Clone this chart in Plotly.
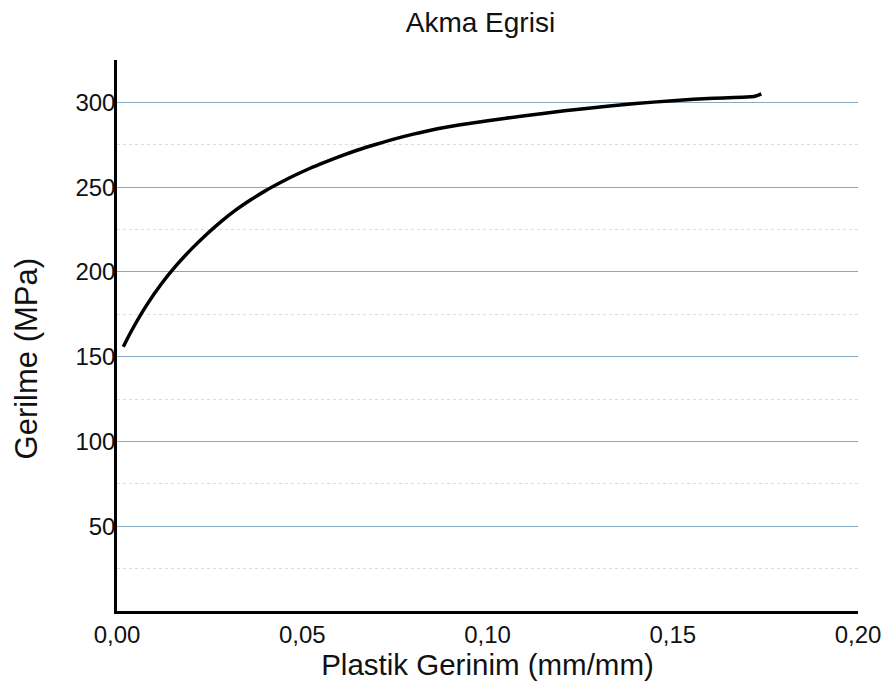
import plotly.graph_objects as go

# Plastic strain (mm/mm) and stress (MPa)
strain = [0.0017, 0.004, 0.008, 0.012, 0.016, 0.020, 0.024, 0.028, 0.032, 0.036,
          0.040, 0.044, 0.048, 0.052, 0.056, 0.060, 0.065, 0.070, 0.075, 0.080,
          0.0865, 0.095, 0.105, 0.115, 0.126, 0.140, 0.150, 0.161, 0.1722, 0.1739]
stress = [155.9, 165.6, 180.4, 193.0, 203.8, 213.3, 221.8, 229.5, 236.4, 242.4,
          247.8, 252.6, 257.0, 261.0, 264.6, 268.0, 271.9, 275.3, 278.5, 281.3,
          284.5, 287.6, 290.7, 293.5, 296.3, 299.3, 301.0, 302.5, 303.6, 305.0]

title_text = "Akma Egrisi"
x_title = "Plastik Gerinim (mm/mm)"
y_title = "Gerilme (MPa)"
x_ticks = [0.0, 0.05, 0.10, 0.15, 0.20]
y_ticks = [50, 100, 150, 200, 250, 300]
y_minor = [25, 75, 125, 175, 225, 275]

font_family = "Liberation Sans, Arial, sans-serif"

L, R, T, B = 117, 27, 60, 74
W, H = 893, 686
pw, ph = W - L - R, H - T - B

fig = go.Figure()
fig.add_trace(go.Scatter(
    x=strain, y=stress, mode="lines",
    line=dict(color="black", width=3.5, shape="spline", smoothing=0.8),
    showlegend=False,
))

fig.update_layout(
    width=W, height=H,
    paper_bgcolor="white", plot_bgcolor="white",
    margin=dict(l=L, r=R, t=T, b=B),
    separators=",.",
    font=dict(family=font_family, color="#111111"),
    title=dict(text=title_text, x=0.538, xref="container", xanchor="center",
               y=1 - 22 / H, yref="container", yanchor="middle",
               font=dict(size=28, family=font_family, color="#111111")),
)

fig.update_xaxes(
    range=[0, 0.2], tickvals=x_ticks, tickformat=".2f",
    showgrid=False, zeroline=False,
    showline=True, linecolor="black", linewidth=2.5,
    ticks="", tickfont=dict(size=24),
    title=dict(text=x_title, font=dict(size=29.5), standoff=6),
)
fig.update_yaxes(
    range=[0, 325], tickvals=y_ticks,
    showgrid=True, gridcolor="#86aac4", gridwidth=1.2,
    minor=dict(tickvals=y_minor, showgrid=True,
               gridcolor="#cfe0ec", griddash="dot", gridwidth=1),
    zeroline=False,
    showline=True, linecolor="black", linewidth=2.5,
    ticks="", tickfont=dict(size=24), ticklabelstandoff=-6,
)

fig.add_annotation(
    text=y_title, textangle=-90, showarrow=False,
    xref="paper", yref="paper",
    x=(25 - L) / pw, y=(H - B - 359) / ph,
    xanchor="center", yanchor="middle",
    font=dict(size=31, family=font_family, color="#111111"),
)

fig.write_html("out.html")
